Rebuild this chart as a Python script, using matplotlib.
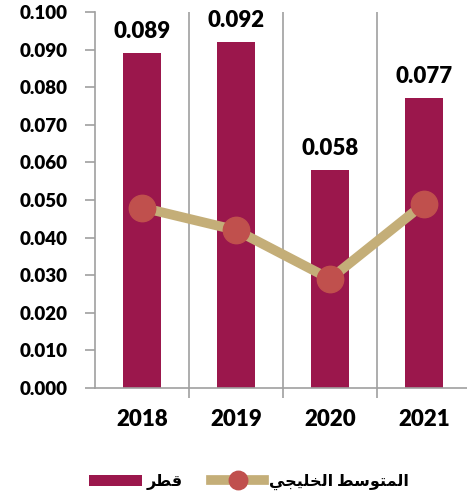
import matplotlib.pyplot as plt
import numpy as np

# Data
years = ['2018', '2019', '2020', '2021']
qatar = [0.089, 0.092, 0.058, 0.077]
gulf_avg = [0.048, 0.042, 0.029, 0.049]
# Arabic labels (presentation forms, visual order)
lbl_qatar = '\uFEAE\uFEC4\uFED7'   # قطر
lbl_gulf = ''.join(reversed('\uFE8D\uFEDF\uFEE4\uFE98\uFEEE\uFEB3\uFEC2 \uFE8D\uFEDF\uFEA8\uFEE0\uFEF4\uFEA0\uFEF2'))  # المتوسط الخليجي
yticks = np.arange(0, 0.1001, 0.01)

plt.rcParams['font.family'] = ['Lato', 'DejaVu Sans']

bar_col = '#9B174C'
line_col = '#C4AE78'
mark_col = '#C0504D'
grid_col = '#A0A0A0'

fig = plt.figure(figsize=(4.67, 4.96), dpi=100)
ax = fig.add_axes([95/467, 108/496, 376/467, 376/496])

x = np.arange(len(years))
bars = ax.bar(x, qatar, width=0.40, color=bar_col, zorder=2, label=lbl_qatar)
ax.plot(x, gulf_avg, color=line_col, lw=7, marker='o', ms=19,
        mfc=mark_col, mec=mark_col, zorder=3, label=lbl_gulf)

for xi, v in zip(x, qatar):
    ax.annotate(f'{v:.3f}', (xi, v), xytext=(0, 8), textcoords='offset points',
                ha='center', va='bottom', fontsize=16, fontweight='heavy')

ax.set_xlim(-0.5, 3.5)
ax.set_ylim(0, 0.1)
ax.set_xticks(x)
ax.set_xticklabels(years, fontsize=16, fontweight='heavy')
ax.set_xticks(x[:-1] + 0.5, minor=True)
ax.tick_params(axis='x', which='major', length=0, pad=15)
ax.tick_params(axis='x', which='minor', length=7, color=grid_col, width=1.2)
ax.set_yticks(yticks)
ax.set_yticklabels([f'{t:.3f}' for t in yticks], fontsize=13.5, fontweight='heavy')
ax.tick_params(axis='y', length=7, color=grid_col, width=1.2, pad=13)
ax.grid(axis='x', which='minor', color=grid_col, lw=1.2, zorder=1)

for s in ['top', 'right']:
    ax.spines[s].set_visible(False)
for s in ['left', 'bottom']:
    ax.spines[s].set_color(grid_col)
    ax.spines[s].set_linewidth(1.2)

h, l = ax.get_legend_handles_labels()
fig.legend(h[::-1], l[::-1], loc='center', bbox_to_anchor=(0.533, 0.028), ncol=2,
           frameon=False, prop={'size': 11.5, 'weight': 'bold'}, markerscale=0.7,
           handlelength=3.3, columnspacing=1.8, handletextpad=0.3)

fig.savefig('out.png', dpi=100)
